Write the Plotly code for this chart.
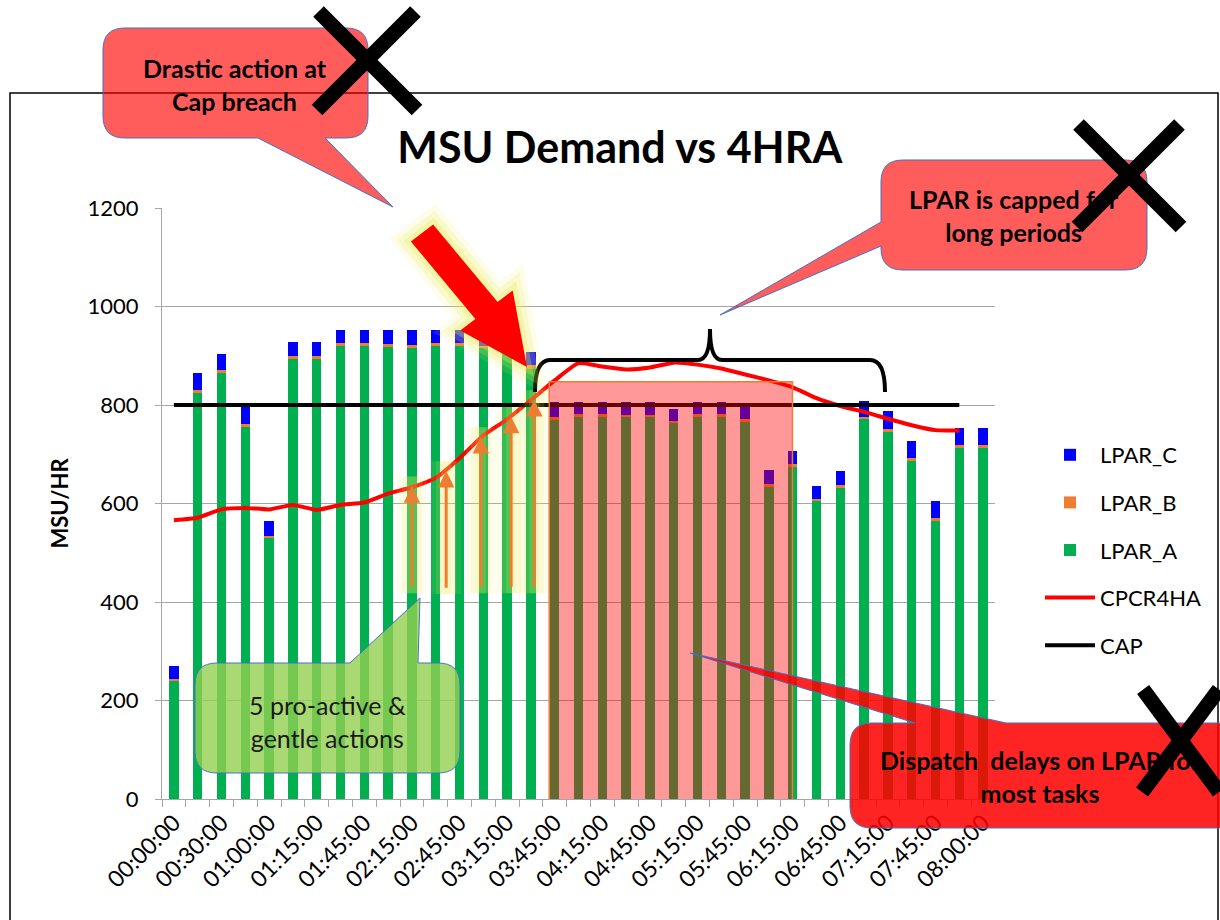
import plotly.graph_objects as go

# ---------------------------------------------------------------------------
# Data
# ---------------------------------------------------------------------------
times = [
    "00:00:00", "00:15:00", "00:30:00", "00:45:00", "01:00:00", "01:07:30",
    "01:15:00", "01:30:00", "01:45:00", "02:00:00", "02:15:00", "02:30:00",
    "02:45:00", "03:00:00", "03:15:00", "03:30:00", "03:45:00", "04:00:00",
    "04:15:00", "04:30:00", "04:45:00", "05:00:00", "05:15:00", "05:30:00",
    "05:45:00", "06:00:00", "06:15:00", "06:30:00", "06:45:00", "07:00:00",
    "07:15:00", "07:30:00", "07:45:00", "07:52:30", "08:00:00",
]
lpar_a = [240, 824, 866, 756, 529, 893, 893, 920, 920, 918, 916, 920, 920, 915,
          905, 873, 770, 776, 776, 775, 775, 764, 776, 776, 766, 634, 675, 605,
          631, 773, 746, 687, 565, 713, 713]
lpar_b = [4, 7, 6, 6, 5, 7, 7, 5, 5, 5, 5, 5, 5, 5, 5, 8, 6, 5, 5, 5, 5, 4, 5, 5,
          5, 5, 5, 5, 6, 3, 5, 5, 6, 5, 5]
lpar_c = [27, 35, 31, 36, 30, 28, 28, 28, 28, 30, 32, 28, 28, 28, 30, 27, 31, 26,
          26, 27, 27, 24, 26, 26, 24, 30, 27, 26, 29, 32, 37, 35, 35, 36, 36]
cpcr4ha = [566, 571, 588, 591, 588, 597, 587, 597, 602, 620, 633, 652, 692, 738,
           771, 810, 850, 885, 878, 872, 876, 886, 882, 874, 862, 850, 836, 814,
           798, 786, 772, 759, 749, 748, None]
cap = [800] * 34 + [None]

# the five "pro-active" actions: position on the time axis, start and end level
action_x = [10.0, 11.44, 12.9, 14.17, 15.14]
action_from = [428, 426, 428, 428, 428]
action_to = [635, 666, 735, 776, 810]

# ---------------------------------------------------------------------------
# helpers to place the drawn call-outs in page pixels
# ---------------------------------------------------------------------------
L, R, T, B = 162, 995, 208, 799


def px(x):
    return (x - L) / (R - L)


def py(y):
    return (B - y) / (B - T)


def svg(cmds):
    out = []
    for c in cmds:
        if c[0] == "Z":
            out.append("Z")
        elif c[0] == "Q":
            out.append(f"Q{px(c[1]):.5f},{py(c[2]):.5f} {px(c[3]):.5f},{py(c[4]):.5f}")
        else:
            out.append(f"{c[0]}{px(c[1]):.5f},{py(c[2]):.5f}")
    return " ".join(out)


def callout(x0, y0, x1, y1, r, tail_edge, tail):
    """rounded box, tail = (base1, tip, base2) inserted on one edge"""
    c = [("M", x0 + r, y0)]
    if tail_edge == "top":
        c += [("L",) + tail[0], ("L",) + tail[1], ("L",) + tail[2]]
    c += [("L", x1 - r, y0), ("Q", x1, y0, x1, y0 + r),
          ("L", x1, y1 - r), ("Q", x1, y1, x1 - r, y1)]
    if tail_edge == "bottom":
        c += [("L",) + tail[0], ("L",) + tail[1], ("L",) + tail[2]]
    c += [("L", x0 + r, y1), ("Q", x0, y1, x0, y1 - r)]
    if tail_edge == "left":
        c += [("L",) + tail[0], ("L",) + tail[1], ("L",) + tail[2]]
    c += [("L", x0, y0 + r), ("Q", x0, y0, x0 + r, y0), ("Z",)]
    return svg(c)


FONT = "Lato"

fig = go.Figure()

fig.add_trace(go.Bar(x=times, y=lpar_a, name="LPAR_A", marker_color="#00B050",
                     marker_line_width=0, legendrank=3, legendgroup="a"))
fig.add_trace(go.Bar(x=times, y=lpar_b, name="LPAR_B", marker_color="#ED7D31",
                     marker_line_width=0, legendrank=2, legendgroup="b"))
fig.add_trace(go.Bar(x=times, y=lpar_c, name="LPAR_C", marker_color="#0000FF",
                     marker_line_width=0, legendrank=1, legendgroup="c"))
fig.add_trace(go.Scatter(x=times, y=cpcr4ha, name="CPCR4HA", mode="lines",
                         line=dict(color="#FF0000", width=4, shape="spline", smoothing=0.5),
                         legendrank=4, legendgroup="d"))
fig.add_trace(go.Scatter(x=times, y=cap, name="CAP", mode="lines",
                         line=dict(color="#000000", width=4),
                         legendrank=5, legendgroup="e"))

shapes = []
# outer frame of the slide chart
shapes.append(dict(type="rect", xref="paper", yref="paper",
                   x0=px(10), x1=px(1218), y0=py(93), y1=py(930),
                   line=dict(color="black", width=1.5), fillcolor="rgba(0,0,0,0)"))

# yellow glow around the pro-active action arrows
for xa, y0, y1 in zip(action_x, action_from, action_to):
    for w, a in [(30, 0.1), (20, 0.14), (10, 0.18)]:
        shapes.append(dict(type="line", xref="x", yref="y", x0=xa, x1=xa,
                           y0=y0 - 10, y1=y1 + 20,
                           line=dict(color=f"rgba(235,235,90,{a})", width=w)))

# pink "capped" period
shapes.append(dict(type="rect", xref="x", yref="y", x0=15.77, x1=25.99, y0=-6, y1=847,
                   fillcolor="rgba(255,0,0,0.4)", line=dict(color="#ED7D31", width=1.5)))

# brace over the capped period
shapes.append(dict(type="path", xref="paper", yref="paper",
                   path=svg([("M", 535, 392), ("Q", 535, 360, 550, 360), ("L", 698, 360),
                             ("Q", 710, 360, 710, 329), ("Q", 710, 360, 722, 360),
                             ("L", 870, 360), ("Q", 885, 360, 885, 392)]),
                   line=dict(color="black", width=4), fillcolor="rgba(0,0,0,0)"))

# big red arrow with glow
arrow = svg([("M", 433.1, 224.5), ("L", 497.6, 302), ("L", 512.7, 290.4),
             ("L", 527, 367), ("L", 460.3, 330.6), ("L", 475.4, 319),
             ("L", 410.9, 241.5), ("Z",)])
for w, a in [(30, 0.12), (20, 0.18), (10, 0.3)]:
    shapes.append(dict(type="path", xref="paper", yref="paper", path=arrow,
                       line=dict(color=f"rgba(235,235,80,{a})", width=w),
                       fillcolor="rgba(0,0,0,0)"))
shapes.append(dict(type="path", xref="paper", yref="paper", path=arrow,
                   line=dict(width=0), fillcolor="#FF0000"))

# call-outs
blue_edge = dict(color="#4472C4", width=1)
shapes.append(dict(type="path", xref="paper", yref="paper",
                   path=callout(103, 28, 368, 138, 22, "bottom",
                                ((325, 138), (393, 207), (258, 138))),
                   fillcolor="rgba(255,0,0,0.64)", line=blue_edge))
shapes.append(dict(type="path", xref="paper", yref="paper",
                   path=callout(881, 160, 1147, 270, 22, "left",
                                ((881, 246), (720, 315), (881, 222))),
                   fillcolor="rgba(255,0,0,0.64)", line=blue_edge))
shapes.append(dict(type="path", xref="paper", yref="paper",
                   path=callout(195, 663, 460, 773, 22, "top",
                                ((350, 663), (420, 598), (418, 663))),
                   fillcolor="rgba(146,208,80,0.8)", line=blue_edge))
shapes.append(dict(type="path", xref="paper", yref="paper",
                   path=callout(850, 723, 1240, 828, 22, "top",
                                ((915, 723), (690, 653), (1006, 723))),
                   fillcolor="rgba(255,0,0,0.86)", line=blue_edge))

annotations = []
# orange action arrows
for xa, y0, y1 in zip(action_x, action_from, action_to):
    annotations.append(dict(x=xa, y=y1, ax=xa, ay=y0, xref="x", yref="y",
                            axref="x", ayref="y", text="", showarrow=True,
                            arrowhead=2, arrowsize=1.1, arrowwidth=3,
                            arrowcolor="#ED7D31"))

bold = dict(family=FONT, size=25, color="black", weight="bold")
txt = dict(xref="paper", yref="paper", showarrow=False, xanchor="center",
           yanchor="middle")
annotations += [
    dict(x=px(235), y=py(85), text="Drastic action at<br>Cap breach", font=bold, **txt),
    dict(x=px(1014), y=py(216), text="LPAR is capped for<br>long periods", font=bold, **txt),
    dict(x=px(327), y=py(721), text="5 pro-active &amp;<br>gentle actions",
         font=dict(family=FONT, size=25, color="#1a1a1a"), **txt),
    dict(x=px(1040), y=py(776), text="Dispatch  delays on LPAR for<br>most tasks",
         font=bold, **txt),
]

# the black crosses
for cx, cy, h in [(367, 60, 50), (1129, 175, 52), (1194, 740, 52)]:
    for sx in (1, -1):
        annotations.append(dict(x=px(cx + sx * h), y=py(cy + h), xref="paper", yref="paper",
                                ax=-2 * sx * h, ay=-2 * h, text="", showarrow=True,
                                arrowhead=0, arrowwidth=15, arrowcolor="black",
                                standoff=0, startstandoff=0))

fig.update_layout(
    width=1220, height=920,
    margin=dict(l=L, r=1220 - R, t=T, b=920 - B),
    barmode="stack", bargap=0.6,
    plot_bgcolor="white", paper_bgcolor="white",
    font=dict(family=FONT, size=22, color="black"),
    title=dict(text="MSU Demand vs 4HRA", x=0.508, xanchor="center",
               y=1 - 148 / 920, yanchor="middle",
               font=dict(family=FONT, size=43, color="black", weight="bold")),
    xaxis=dict(type="category", tickmode="array", tickvals=times,
               ticktext=[t if i % 2 == 0 else "" for i, t in enumerate(times)],
               tickangle=-45, tickson="boundaries", ticks="outside", ticklen=7,
               tickcolor="#A6A6A6", showline=True, linecolor="#A6A6A6",
               showgrid=False, tickfont=dict(size=23)),
    yaxis=dict(range=[0, 1200], dtick=200, showgrid=True, gridcolor="#A6A6A6",
               ticks="outside", ticklen=6, tickcolor="#A6A6A6", showline=True,
               linecolor="#A6A6A6", zeroline=False, tickfont=dict(size=22),
               ticklabelstandoff=12,
               title=dict(text="MSU/HR", standoff=12,
                          font=dict(family=FONT, size=22, weight="bold"))),
    legend=dict(x=px(1040), y=py(434), xanchor="left", yanchor="top",
                traceorder="grouped", tracegroupgap=16, font=dict(size=22),
                itemwidth=50, bgcolor="rgba(0,0,0,0)"),
    shapes=shapes,
    annotations=annotations,
)

fig.write_html("out.html", config={"displayModeBar": False},
               post_script="document.body.style.margin='0';")
